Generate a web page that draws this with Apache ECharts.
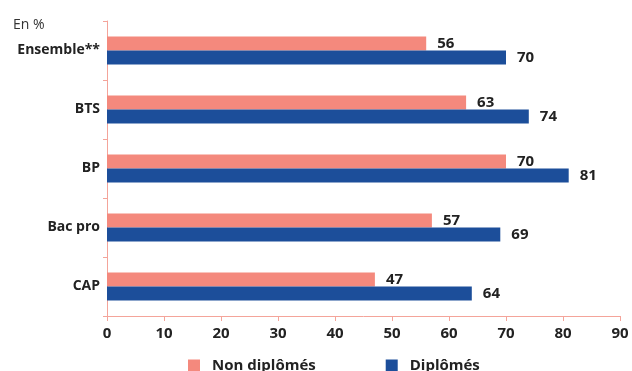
<!DOCTYPE html>
<html><head><meta charset="utf-8">
<script src="https://cdn.jsdelivr.net/npm/echarts@6/dist/echarts.min.js"></script>
<style>html,body{margin:0;padding:0;background:#fff}#c{width:632px;height:371px}</style>
</head><body><div id="c"></div>
<script>
const categories = ['Ensemble**', 'BTS', 'BP', 'Bac pro', 'CAP'];
const nonDiplomes = [56, 63, 70, 57, 47];
const diplomes = [70, 74, 81, 69, 64];
const xTicks = [0, 10, 20, 30, 40, 50, 60, 70, 80, 90];

const FONT = '"Open Sans", "Noto Sans", sans-serif';
const chart = echarts.init(document.getElementById('c'));
const lbl = {show: true, position: 'right', distance: 11, color: '#222', fontWeight: 'bold', fontSize: 15, fontFamily: FONT};
chart.setOption({
  animation: false,
  textStyle: {fontFamily: FONT},
  title: {text: 'En %', left: 8, top: 13, textStyle: {fontSize: 14, fontWeight: 'normal', color: '#333', fontFamily: FONT}},
  legend: {
    top: 353, left: 183, itemGap: 70, itemWidth: 12, itemHeight: 12, icon: 'rect',
    textStyle: {fontSize: 15, fontWeight: 'bold', color: '#222', fontFamily: FONT, padding: [0, 0, 0, 7]}
  },
  grid: {left: 107, right: 12, top: 21, bottom: 55, containLabel: false},
  xAxis: {
    type: 'value', min: xTicks[0], max: xTicks[xTicks.length - 1], interval: 10,
    axisLine: {show: true, lineStyle: {color: '#F4A49A'}},
    axisTick: {show: true, length: 5, lineStyle: {color: '#F4A49A'}},
    splitLine: {show: false},
    axisLabel: {color: '#222', fontWeight: 'bold', fontSize: 15, margin: 10, fontFamily: FONT}
  },
  yAxis: {
    type: 'category', data: categories, inverse: true,
    axisLine: {show: true, lineStyle: {color: '#F4A49A'}},
    axisTick: {show: true, length: 4, lineStyle: {color: '#F4A49A'}},
    axisLabel: {color: '#222', fontWeight: 'bold', fontSize: 14, margin: 7, fontFamily: FONT}
  },
  series: [
    {name: 'Non diplômés', type: 'bar', data: nonDiplomes, barWidth: 14, barGap: '0%',
     itemStyle: {color: '#F4897D'}, label: lbl},
    {name: 'Diplômés', type: 'bar', data: diplomes, barWidth: 14, barGap: '0%',
     itemStyle: {color: '#1C4E9A'}, label: lbl}
  ]
});
</script></body></html>
